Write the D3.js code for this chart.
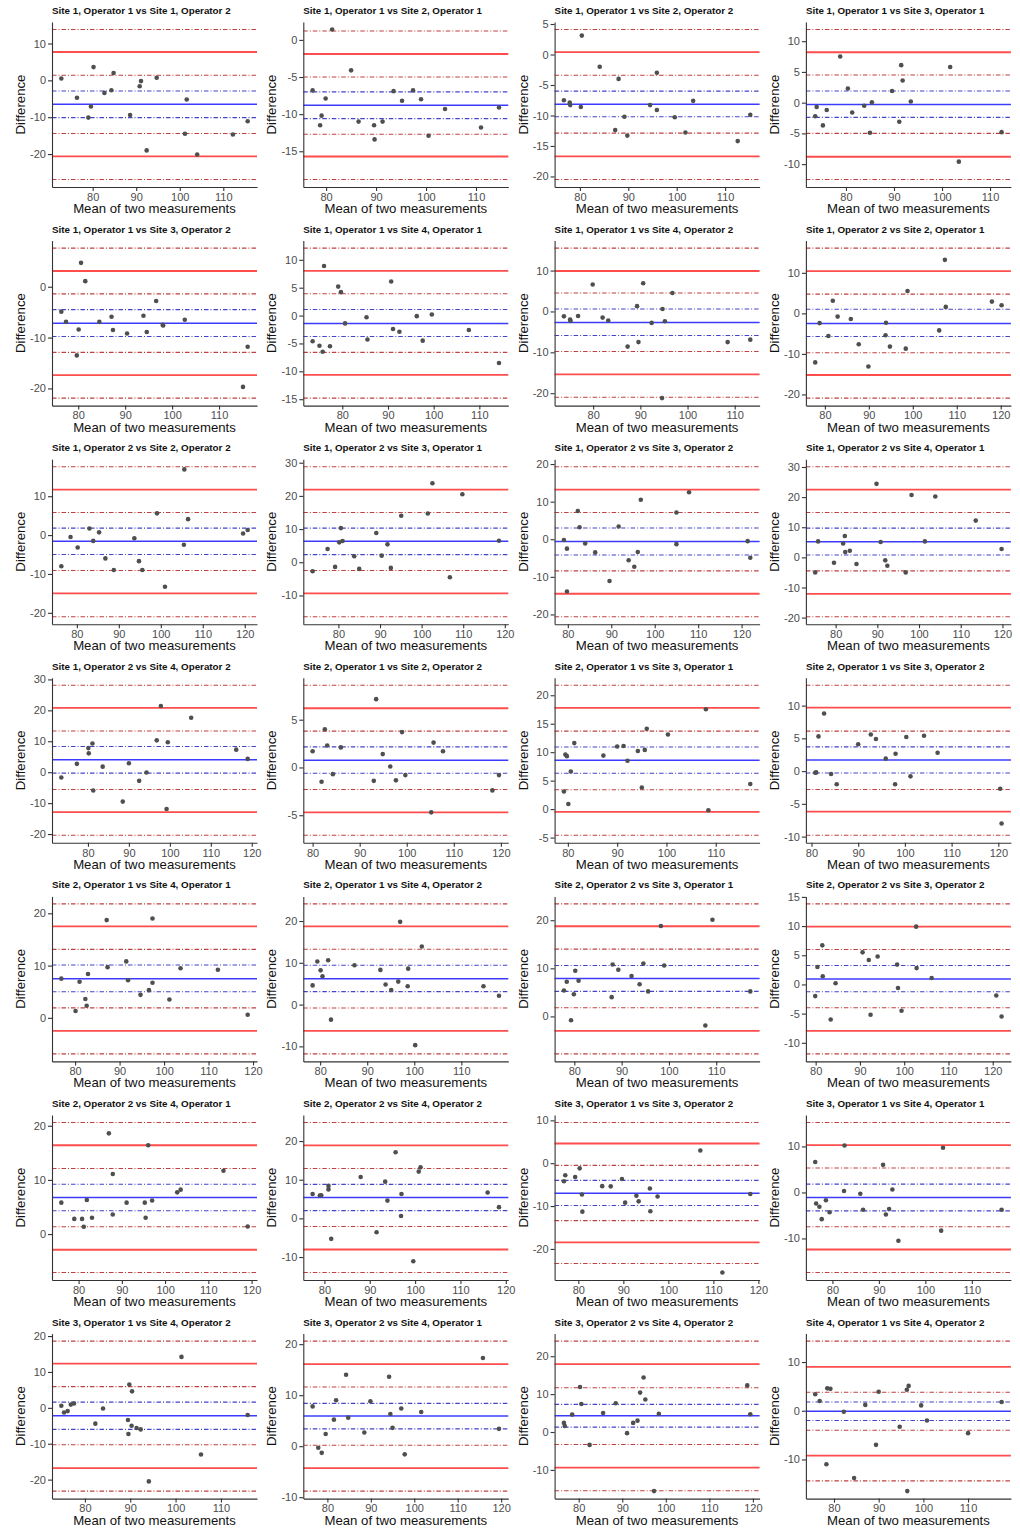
<!DOCTYPE html>
<html><head><meta charset="utf-8">
<script src="https://cdn.jsdelivr.net/npm/d3@7"></script>
<style>body{margin:0;background:#fff} text{font-family:"Liberation Sans",Arial,sans-serif}</style>
</head><body><svg id="c" width="1020" height="1528"></svg>
<script>
const titles = [
"Site 1, Operator 1 vs Site 1, Operator 2","Site 1, Operator 1 vs Site 2, Operator 1","Site 1, Operator 1 vs Site 2, Operator 2","Site 1, Operator 1 vs Site 3, Operator 1",
"Site 1, Operator 1 vs Site 3, Operator 2","Site 1, Operator 1 vs Site 4, Operator 1","Site 1, Operator 1 vs Site 4, Operator 2","Site 1, Operator 2 vs Site 2, Operator 1",
"Site 1, Operator 2 vs Site 2, Operator 2","Site 1, Operator 2 vs Site 3, Operator 1","Site 1, Operator 2 vs Site 3, Operator 2","Site 1, Operator 2 vs Site 4, Operator 1",
"Site 1, Operator 2 vs Site 4, Operator 2","Site 2, Operator 1 vs Site 2, Operator 2","Site 2, Operator 1 vs Site 3, Operator 1","Site 2, Operator 1 vs Site 3, Operator 2",
"Site 2, Operator 1 vs Site 4, Operator 1","Site 2, Operator 1 vs Site 4, Operator 2","Site 2, Operator 2 vs Site 3, Operator 1","Site 2, Operator 2 vs Site 3, Operator 2",
"Site 2, Operator 2 vs Site 4, Operator 1","Site 2, Operator 2 vs Site 4, Operator 2","Site 3, Operator 1 vs Site 3, Operator 2","Site 3, Operator 1 vs Site 4, Operator 1",
"Site 3, Operator 1 vs Site 4, Operator 2","Site 3, Operator 2 vs Site 4, Operator 1","Site 3, Operator 2 vs Site 4, Operator 2","Site 4, Operator 1 vs Site 4, Operator 2"];

// Upper limit of agreement and its CI
const upperLoaCIHigh = [13.8,1.2,4.1,11.9,7.6,12.1,15.5,16.1,17.6,28.8,19.3,30.1,28.1,8.6,21.75,13.1,21.8,24.1,23.4,13.8,20.6,24.8,9.5,15.2,18.6,20.6,24.0,14.3];
const upperLoa       = [7.7,-1.9,0.4,8.2,3.1,8.0,9.9,10.4,11.7,21.9,13.2,22.5,20.8,6.2,17.8,9.7,17.5,18.7,18.75,9.9,16.4,18.9,4.6,10.3,12.3,16.1,17.9,9.0];
const upperLoaCILow  = [1.4,-5.0,-3.4,4.5,-1.4,3.9,4.5,4.75,5.8,15.0,7.1,14.9,13.3,3.8,13.7,6.1,13.1,13.25,14.0,6.0,12.1,12.9,-0.5,5.3,5.9,11.6,11.7,3.8];
// Mean difference (bias) and its CI
const biasCIHigh = [-2.9,-7.0,-6.0,1.9,-4.5,1.1,0.6,1.0,1.8,10.3,3.0,9.7,8.3,2.15,10.9,3.7,10.1,9.4,10.6,3.25,9.2,8.8,-4.0,1.8,1.6,8.4,7.3,1.8];
const bias       = [-6.5,-8.8,-8.15,-0.3,-7.2,-1.4,-2.7,-2.5,-1.6,6.3,-0.6,5.2,4.0,0.75,8.6,1.7,7.5,6.2,7.9,0.95,6.75,5.4,-7.0,-1.1,-2.2,5.9,4.3,-0.1];
const biasCILow  = [-10.1,-10.6,-10.2,-2.4,-9.8,-3.75,-5.9,-5.7,-5.0,2.3,-4.2,0.8,-0.3,-0.6,6.3,-0.3,5.0,3.1,5.2,-1.25,4.3,2.0,-9.85,-4.0,-6.0,3.4,1.3,-2.0];
// Lower limit of agreement and its CI
const lowerLoaCIHigh = [-14.4,-12.7,-12.9,-5.0,-12.9,-6.6,-9.8,-9.7,-9.1,-2.5,-8.4,-4.5,-5.6,-2.3,3.4,-2.8,1.9,-0.8,1.8,-4.0,1.35,-2.1,-13.4,-7.45,-10.3,0.2,-3.3,-4.0];
const lowerLoa       = [-20.6,-15.7,-16.7,-8.8,-17.4,-10.65,-15.4,-15.2,-15.0,-9.4,-14.5,-12.1,-12.9,-4.7,-0.5,-6.2,-2.5,-6.3,-3.0,-7.95,-2.9,-8.05,-18.45,-12.4,-16.8,-4.3,-9.4,-9.2];
const lowerLoaCILow  = [-26.9,-18.8,-20.5,-12.5,-21.9,-14.8,-21.0,-20.9,-21.0,-16.4,-20.6,-19.7,-20.4,-7.1,-4.6,-9.8,-6.9,-11.8,-7.8,-11.9,-7.1,-14.0,-23.4,-17.4,-23.2,-8.8,-15.5,-14.4];

// Y-axis tick step per panel
const yTickStep = [10,5,5,5,10,5,10,10,10,10,10,10,10,5,5,5,10,10,10,5,10,10,10,10,10,10,10,10];

// Mean of two measurements (x) per panel
const meanValues = [
[72.8,76.4,79.0,79.6,80.2,82.7,84.3,84.8,88.6,90.8,91.1,92.4,94.7,101.2,101.6,104.0,112.2,115.6],
[77.3,78.8,79.1,79.9,81.2,85.0,86.5,89.6,89.7,91.3,93.5,95.2,97.4,99.0,100.5,103.8,111.0,114.6],
[76.7,77.9,78.0,80.2,80.4,84.1,88.0,87.3,89.2,89.8,94.5,95.9,95.9,99.6,101.8,103.4,112.6,115.2],
[73.6,73.9,75.2,76.0,78.8,80.4,81.3,83.8,85.0,85.4,89.6,91.1,91.5,91.8,93.5,101.7,103.5,112.4],
[76.4,77.4,80.1,79.7,80.6,81.5,84.5,87.1,87.4,90.4,93.9,94.6,96.6,98.0,98.1,102.7,115.1,116.1],
[73.5,75.0,75.7,76.0,77.3,79.1,79.7,80.6,85.3,85.5,90.7,91.1,92.5,96.3,97.6,99.6,107.7,114.3],
[73.8,75.1,75.2,76.8,79.9,82.0,83.2,87.3,89.3,89.6,90.6,92.4,94.7,95.2,96.8,94.6,108.5,113.3],
[77.8,78.8,80.8,81.8,82.9,85.9,87.7,89.9,93.9,93.8,94.8,98.4,98.8,106.0,107.3,107.5,118.0,120.2],
[76.3,78.5,80.2,83.0,83.9,85.3,86.8,88.8,93.7,94.8,95.6,99.1,101.0,105.6,105.5,106.5,119.6,120.7],
[73.8,77.4,79.2,80.2,80.6,81.0,83.8,85.0,89.1,90.4,91.8,92.6,95.1,101.5,102.6,106.8,109.8,118.6],
[79.1,79.8,79.8,82.3,82.7,84.0,86.3,89.6,91.7,94.0,95.3,96.1,96.8,105.0,105.0,107.9,121.4,122.0],
[75.1,75.8,79.6,81.8,82.2,82.3,83.4,85.0,89.8,90.8,91.9,92.4,96.8,98.2,101.4,103.9,113.6,119.8],
[73.5,77.3,80.1,80.2,81.1,81.3,83.6,88.5,90.0,92.5,94.3,96.8,97.8,99.5,99.2,105.2,116.2,119.0],
[80.0,81.9,82.6,83.1,84.3,86.0,93.0,93.5,94.9,96.5,97.7,99.0,99.7,105.2,105.7,107.7,118.2,119.6],
[79.2,79.5,79.8,80.1,80.6,81.3,87.2,90.0,91.3,92.1,94.2,95.0,95.6,96.0,100.3,108.0,108.5,117.0],
[80.8,81.0,81.5,82.7,84.2,85.4,90.0,92.7,93.8,95.9,98.0,97.9,100.3,101.2,104.1,107.0,120.4,120.7],
[76.9,80.1,81.0,82.3,82.6,82.9,87.1,87.3,91.5,91.9,94.7,96.6,97.4,97.4,101.2,103.7,112.1,118.8],
[78.4,79.4,80.1,80.5,81.7,82.3,87.3,92.8,93.9,95.1,96.6,97.0,98.7,98.6,100.2,101.6,114.7,118.0],
[77.8,78.4,79.3,79.9,80.2,80.9,87.9,88.1,89.3,92.1,93.8,94.6,95.6,98.3,99.0,107.7,109.2,117.2],
[79.9,80.4,81.5,81.6,83.4,84.5,90.6,92.0,92.4,94.0,98.4,98.6,99.4,102.7,102.8,106.2,120.8,122.0],
[76.0,79.0,80.8,81.2,81.9,83.1,87.0,87.9,87.9,91.1,95.3,95.5,96.1,97.0,102.8,103.6,113.5,119.1],
[77.4,79.0,79.3,80.9,80.9,81.5,88.0,91.5,93.4,93.9,95.7,96.9,97.0,99.6,100.8,101.2,116.0,118.5],
[76.8,77.1,79.3,80.3,80.8,80.9,85.3,87.2,89.7,90.4,92.9,93.4,95.9,96.0,97.6,107.1,112.0,118.2],
[76.3,76.5,77.2,77.7,78.6,79.4,82.6,82.5,86.0,86.6,90.9,91.5,92.2,92.9,94.2,103.4,103.8,116.4],
[74.8,75.4,76.2,76.9,77.6,82.3,84.0,89.8,90.4,89.5,90.3,91.4,92.3,89.6,94.1,101.3,105.6,115.9],
[76.6,77.9,78.7,79.6,81.5,82.0,84.3,84.8,88.5,89.9,94.2,94.5,95.0,97.0,97.8,101.6,115.8,119.5],
[76.6,76.8,78.5,80.3,80.6,82.5,85.6,88.5,91.1,92.5,93.5,94.1,94.9,95.3,97.3,98.4,118.7,119.4],
[75.8,76.8,78.5,79.2,78.3,82.2,84.5,87.0,89.4,90.0,94.7,96.3,96.7,96.4,99.5,100.8,117.5,110.0]];

// Difference between measurements (y) per panel
const diffValues = [
[0.5,-4.7,-10.1,-7.1,3.6,-3.4,-2.7,2.0,-9.4,-1.6,-0.2,-19.0,0.7,-14.5,-5.2,-20.1,-14.7,-11.1],
[-6.8,-11.5,-10.2,-7.9,1.4,-4.1,-11.0,-11.5,-13.4,-11.0,-6.9,-8.2,-6.8,-8.0,-12.9,-9.3,-11.8,-9.1],
[-7.5,-7.9,-8.3,-8.6,3.1,-2.0,-4.0,-12.4,-10.2,-13.3,-8.3,-3.0,-9.1,-10.3,-12.8,-7.6,-14.2,-9.9],
[-2.2,-0.7,-3.7,-1.2,7.5,2.3,-1.6,-0.5,-4.9,0.05,1.9,-3.1,6.1,3.6,0.2,5.8,-9.6,-4.8],
[-4.9,-6.9,-8.4,-13.5,4.7,1.1,-6.9,-5.9,-8.5,-9.2,-5.7,-8.9,-2.8,-7.5,-7.6,-6.5,-19.7,-11.8],
[-4.6,-5.4,-6.5,8.9,-5.5,5.2,4.2,-1.4,-0.3,-4.3,6.1,-2.4,-2.9,-0.1,-4.5,0.2,-2.6,-8.5],
[-1.2,-2.0,-2.3,-1.1,6.6,-1.5,-2.2,-8.6,1.3,-7.5,6.9,-2.8,0.6,-2.4,4.5,-21.2,-7.5,-6.9],
[-12.1,-2.4,-5.6,3.1,-0.8,-1.4,-7.6,-13.1,-2.3,-5.4,-8.2,-8.7,5.5,-4.2,13.2,1.6,2.9,2.0],
[-8.0,-0.5,-3.2,1.7,-1.5,0.7,-6.0,-9.0,-0.8,-6.7,-9.0,5.6,-13.3,16.9,-2.5,4.1,0.4,1.3],
[-2.7,4.0,-1.4,6.0,10.3,6.4,1.8,-2.0,8.8,2.0,5.4,-1.7,14.0,14.7,23.8,-4.5,20.5,6.5],
[-0.2,-2.5,-13.9,7.5,3.2,-1.1,-3.5,-11.1,3.4,-5.6,-7.3,-3.4,10.5,-1.3,7.1,12.5,-0.5,-4.9],
[-5.0,5.3,-1.8,4.6,7.1,1.8,2.2,-2.2,24.4,5.1,-1.0,-2.8,-5.0,20.7,5.3,20.2,12.2,2.8],
[-1.7,2.7,7.8,6.1,9.3,-5.9,1.8,-9.5,2.9,-2.8,-0.1,10.3,21.4,9.7,-11.9,17.6,7.3,4.3],
[1.7,-1.5,4.0,2.3,-0.7,2.1,-1.4,7.15,1.4,0.1,-1.35,3.7,-0.8,-4.7,2.6,1.7,-2.4,-0.8],
[3.1,9.6,9.3,0.9,6.6,11.6,9.4,11.0,11.1,8.5,10.2,3.8,10.4,14.1,13.1,17.55,-0.2,4.4],
[-0.25,-0.2,5.3,8.8,-0.45,-2.0,4.1,5.6,4.9,1.9,2.65,-2.0,5.2,-0.8,5.4,2.8,-2.7,-8.0],
[7.5,1.3,6.9,3.6,2.3,8.4,18.7,9.7,10.8,7.2,4.4,5.3,19.0,6.7,3.5,9.5,9.2,0.6],
[4.6,10.3,8.2,6.8,10.6,-3.6,9.4,8.3,4.8,3.5,5.5,19.8,8.6,4.4,-9.7,13.9,4.4,2.1],
[5.4,7.2,-0.8,4.6,9.5,7.4,4.0,10.8,9.7,8.4,6.7,11.0,5.2,18.8,10.6,-1.9,20.1,5.2],
[-2.0,3.0,6.7,1.4,-6.0,0.2,5.5,4.2,-5.2,4.8,3.4,-0.6,-4.5,9.9,2.8,1.1,-1.9,-5.5],
[5.8,2.8,2.8,1.35,6.3,3.0,18.6,11.1,3.6,5.8,5.8,3.0,16.4,6.2,7.7,8.2,11.7,1.4],
[6.3,5.9,6.0,8.4,7.5,-5.3,10.7,-3.6,9.5,4.6,17.1,0.6,6.3,-11.1,12.1,13.2,6.7,2.9],
[-4.2,-2.8,-3.2,-1.2,-7.3,-11.3,-5.35,-5.4,-3.7,-9.2,-7.6,-8.9,-5.9,-11.2,-7.75,2.95,-25.5,-7.2],
[6.6,-2.4,-3.1,-5.8,-1.7,-4.3,10.2,0.3,-0.3,-3.75,6.0,-4.8,-3.6,0.65,-10.5,-8.3,9.7,-3.75],
[0.6,-1.3,-0.9,0.9,1.2,-4.4,-0.2,6.5,4.6,-3.4,-5.0,-5.6,-6.0,-7.3,-20.5,14.2,-13.0,-2.0],
[7.8,-0.3,-1.3,2.4,5.2,9.0,14.0,5.6,2.7,8.8,13.6,6.3,3.6,7.4,-1.6,6.7,17.3,3.4],
[2.4,1.6,4.6,11.9,7.4,-3.4,5.0,7.6,-0.3,2.4,3.0,10.4,14.4,8.6,-15.6,4.8,12.3,4.7],
[3.4,2.0,4.6,4.5,-11.0,-0.2,-13.8,1.2,-7.0,3.9,-3.3,4.3,5.1,-16.5,1.1,-2.0,1.8,-4.6]];

const xTickStep = 10;
const xLabel = "Mean of two measurements";
const yLabel = "Difference";

// ---------- drawing ----------
const svg = d3.select("#c");
const PW = 205, PH = 165, X0 = 52, Y0 = 22, DX = 251.3, DY = 218.6;
const RED = "#ff4d4d", BLUE = "#3c3cff", RED_DD = "#c24040", BLUE_DD = "#4343cc";
const DASH = "4.5,2,1,2";

titles.forEach((title, i) => {
  const c = i % 4, r = Math.floor(i / 4);
  const g = svg.append("g").attr("transform", `translate(${X0 + c * DX},${Y0 + r * DY})`);
  const xs = meanValues[i], ys = diffValues[i];
  const hl = [
    {v: upperLoaCIHigh[i], col: RED_DD, w: 1.1, d: DASH},
    {v: upperLoa[i], col: RED, w: 1.8, d: null},
    {v: upperLoaCILow[i], col: RED_DD, w: 1.1, d: DASH},
    {v: biasCIHigh[i], col: BLUE_DD, w: 1.1, d: DASH},
    {v: bias[i], col: BLUE, w: 1.5, d: null},
    {v: biasCILow[i], col: BLUE_DD, w: 1.1, d: DASH},
    {v: lowerLoaCIHigh[i], col: RED_DD, w: 1.1, d: DASH},
    {v: lowerLoa[i], col: RED, w: 1.8, d: null},
    {v: lowerLoaCILow[i], col: RED_DD, w: 1.1, d: DASH}
  ];
  const xe = d3.extent(xs), xp = (xe[1] - xe[0]) * 0.05;
  const x = d3.scaleLinear().domain([xe[0] - xp, xe[1] + xp]).range([0, PW]);
  const ye = d3.extent(ys.concat(hl.map(h => h.v))), yp = (ye[1] - ye[0]) * 0.05;
  const y = d3.scaleLinear().domain([ye[0] - yp, ye[1] + yp]).range([PH, 0]);

  const xd = x.domain(), yd = y.domain();
  const xt = d3.range(Math.ceil(xd[0] / xTickStep) * xTickStep, xd[1] + 1e-9, xTickStep);
  const st = yTickStep[i];
  const yt = d3.range(Math.ceil(yd[0] / st) * st, yd[1] + 1e-9, st);

  g.selectAll("line.h").data(hl).join("line").attr("class", "h")
    .attr("x1", 0).attr("x2", PW)
    .attr("y1", d => y(d.v)).attr("y2", d => y(d.v))
    .attr("stroke", d => d.col).attr("stroke-width", d => d.w)
    .attr("stroke-dasharray", d => d.d);

  g.selectAll("circle").data(xs.map((v, k) => [v, ys[k]])).join("circle")
    .attr("cx", d => x(d[0])).attr("cy", d => y(d[1])).attr("r", 2.3)
    .attr("fill", "#4f4f4f");

  const ax = g.append("g").attr("transform", `translate(0,${PH})`)
    .call(d3.axisBottom(x).tickValues(xt).tickFormat(d => String(d)).tickSize(4).tickSizeOuter(0).tickPadding(2));
  const ay = g.append("g")
    .call(d3.axisLeft(y).tickValues(yt).tickFormat(d => String(d)).tickSize(4).tickSizeOuter(0).tickPadding(2));
  [ax, ay].forEach(a => {
    a.select(".domain").attr("stroke", "#333").attr("stroke-width", 1.1);
    a.selectAll(".tick line").attr("stroke", "#333").attr("stroke-width", 1.1);
    a.selectAll(".tick text").attr("fill", "#4d4d4d").attr("font-size", 11)
      .attr("font-family", "Liberation Sans, Arial, sans-serif");
  });

  g.append("text").attr("x", 0).attr("y", -8).attr("font-size", 9.8).attr("font-weight", "bold")
    .attr("fill", "#111").text(title);
  g.append("text").attr("x", PW / 2).attr("y", PH + 26).attr("text-anchor", "middle")
    .attr("font-size", 13.2).attr("fill", "#111").text(xLabel);
  g.append("text").attr("transform", `translate(-27,${PH / 2}) rotate(-90)`).attr("text-anchor", "middle")
    .attr("font-size", 13.2).attr("fill", "#111").text(yLabel);
});
</script></body></html>
